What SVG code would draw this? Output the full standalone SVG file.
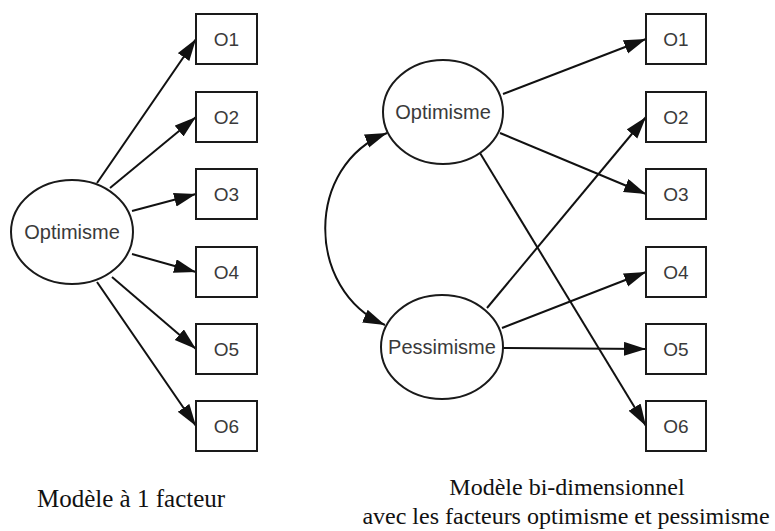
<svg xmlns="http://www.w3.org/2000/svg" width="775" height="531" viewBox="0 0 775 531">
<style>
.n{fill:#fff;stroke:#1a1a1a;stroke-width:2}
.lbl{font-family:"Liberation Sans",Arial,sans-serif;font-size:20px;fill:#3a3a3a;text-anchor:middle}
.bl{font-family:"Liberation Sans",Arial,sans-serif;font-size:19px;fill:#3a3a3a;text-anchor:middle}
.cap{font-family:"Liberation Serif","Times New Roman",serif;font-size:24px;fill:#111}
.e{fill:none;stroke:#111;stroke-width:2;marker-end:url(#ah)}
</style>
<defs>
<marker id="ah" markerUnits="userSpaceOnUse" markerWidth="24" markerHeight="16" refX="22" refY="7" orient="auto-start-reverse">
<path d="M0,0 L22,7 L0,14 z" fill="#111"/>
</marker>
</defs>
<g id="connectors">
<line class="e" x1="97" y1="183" x2="196" y2="39"/>
<line class="e" x1="110" y1="188" x2="196" y2="117"/>
<line class="e" x1="132" y1="211" x2="196" y2="194"/>
<line class="e" x1="132" y1="254" x2="196" y2="272"/>
<line class="e" x1="112" y1="277" x2="196" y2="349"/>
<line class="e" x1="97" y1="282" x2="196" y2="426"/>
<line class="e" x1="503" y1="94" x2="646" y2="39"/>
<line class="e" x1="500" y1="133" x2="646" y2="194"/>
<line class="e" x1="480" y1="153" x2="646" y2="426"/>
<line class="e" x1="487" y1="308" x2="646" y2="117"/>
<line class="e" x1="502" y1="328" x2="646" y2="272"/>
<line class="e" x1="503" y1="348" x2="646" y2="349"/>
<path class="e" d="M387,133 C305,165 305,290 385,325" style="marker-start:url(#ah)"/>
</g>
<g id="L_opt"><ellipse class="n" cx="72" cy="232" rx="61" ry="52"/><text class="lbl" x="72" y="239">Optimisme</text></g>
<g id="L_O1"><rect class="n" x="196" y="14" width="61" height="50"/><text class="bl" x="226.5" y="46">O1</text></g>
<g id="L_O2"><rect class="n" x="196" y="92" width="61" height="50"/><text class="bl" x="226.5" y="124">O2</text></g>
<g id="L_O3"><rect class="n" x="196" y="169" width="61" height="50"/><text class="bl" x="226.5" y="201">O3</text></g>
<g id="L_O4"><rect class="n" x="196" y="247" width="61" height="50"/><text class="bl" x="226.5" y="279">O4</text></g>
<g id="L_O5"><rect class="n" x="196" y="324" width="61" height="50"/><text class="bl" x="226.5" y="356">O5</text></g>
<g id="L_O6"><rect class="n" x="196" y="401" width="61" height="50"/><text class="bl" x="226.5" y="433">O6</text></g>
<g id="R_opt"><ellipse class="n" cx="443" cy="112" rx="60" ry="52"/><text class="lbl" x="443" y="119">Optimisme</text></g>
<g id="R_pess"><ellipse class="n" cx="442" cy="347" rx="61" ry="52"/><text class="lbl" x="442" y="354">Pessimisme</text></g>
<g id="R_O1"><rect class="n" x="646" y="14" width="60" height="50"/><text class="bl" x="676" y="46">O1</text></g>
<g id="R_O2"><rect class="n" x="646" y="92" width="60" height="50"/><text class="bl" x="676" y="124">O2</text></g>
<g id="R_O3"><rect class="n" x="646" y="169" width="60" height="50"/><text class="bl" x="676" y="201">O3</text></g>
<g id="R_O4"><rect class="n" x="646" y="247" width="60" height="50"/><text class="bl" x="676" y="279">O4</text></g>
<g id="R_O5"><rect class="n" x="646" y="324" width="60" height="50"/><text class="bl" x="676" y="356">O5</text></g>
<g id="R_O6"><rect class="n" x="646" y="401" width="60" height="50"/><text class="bl" x="676" y="433">O6</text></g>
<g id="captions">
<text class="cap" x="37" y="507" style="font-size:25px">Modèle à 1 facteur</text>
<text class="cap" x="567" y="495" text-anchor="middle">Modèle bi-dimensionnel</text>
<text class="cap" x="566" y="524" text-anchor="middle">avec les facteurs optimisme et pessimisme</text>
</g>
</svg>
